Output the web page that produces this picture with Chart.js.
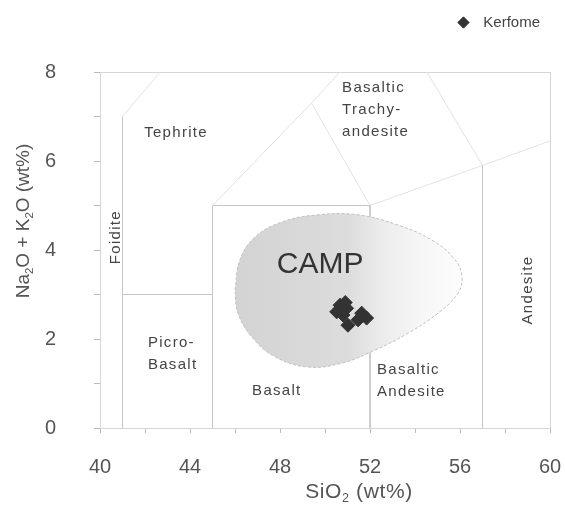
<!DOCTYPE html>
<html>
<head>
<meta charset="utf-8">
<script src="https://cdn.jsdelivr.net/npm/chart.js@4.4.1/dist/chart.umd.min.js"></script>
<style>
  html, body { margin: 0; padding: 0; background: #fff; }
</style>
</head>
<body>
<canvas id="tas" width="565" height="509"></canvas>
<script>
// Kerfome samples (SiO2 wt%, Na2O+K2O wt%)
const kerfomeSiO2 = [50.67, 50.96, 50.52, 50.80, 51.63, 51.85, 51.02, 51.47, 50.90];
const kerfomeAlk  = [2.76, 2.69, 2.61, 2.54, 2.58, 2.47, 2.31, 2.43, 2.82];

// CAMP field outline
const campSiO2 = [46.0, 46.22, 46.89, 48.09, 49.69, 51.47, 53.24, 54.76, 55.78, 56.09,
                  55.91, 55.02, 53.69, 52.22, 50.76, 49.24, 47.78, 46.76, 46.13, 46.0];
const campAlk  = [3.10, 3.78, 4.29, 4.63, 4.79, 4.79, 4.56, 4.22, 3.78, 3.39,
                  3.03, 2.58, 2.13, 1.75, 1.46, 1.37, 1.60, 2.04, 2.58, 3.10];

// TAS field boundaries (clipped to the plot window)
const tasBoundaries = [
  [[41, 0], [41, 7]],
  [[41, 3], [45, 3]],
  [[45, 0], [45, 5], [52, 5], [52, 0]],
  [[57, 0], [57, 5.9]]
];
const tasDiagonals = [
  [[41, 7], [42.67, 8]],
  [[52, 5], [57, 5.9], [60, 6.45]],
  [[57, 5.9], [54.53, 8]],
  [[45, 5], [49.4, 7.3], [52, 5]],
  [[49.4, 7.3], [50.66, 8]]
];

const regionLabels = [
  { lines: ['Tephrite'], x: 43.38, y: 6.63, align: 'center' },
  { lines: ['Basaltic', 'Trachy-', 'andesite'], x: 50.76, y: 7.64, align: 'left' },
  { lines: ['Foidite'], x: 40.71, y: 4.29, align: 'center', rotate: true },
  { lines: ['Picro-', 'Basalt'], x: 42.13, y: 1.91, align: 'left' },
  { lines: ['Basalt'], x: 46.76, y: 0.83, align: 'left' },
  { lines: ['Basaltic', 'Andesite'], x: 52.31, y: 1.30, align: 'left' },
  { lines: ['Andesite'], x: 59.02, y: 3.10, align: 'center', rotate: true }
];

const fontFamily = "'Liberation Sans', Arial, sans-serif";
const toPoints = (xs, ys) => xs.map((x, i) => ({ x, y: ys[i] }));

const datasets = [
  {
    label: 'Kerfome',
    data: toPoints(kerfomeSiO2, kerfomeAlk),
    pointStyle: 'rectRot',
    pointRadius: 7,
    backgroundColor: '#333',
    borderColor: '#333',
    showLine: false
  },
  {
    label: 'CAMP',
    data: toPoints(campSiO2, campAlk),
    showLine: true,
    pointRadius: 0,
    tension: 0.4,
    borderColor: '#c0c0c0',
    borderWidth: 1,
    borderDash: [3, 2],
    fill: 'shape',
    backgroundColor: (ctx) => {
      const chart = ctx.chart;
      if (!chart.chartArea) return '#ddd';
      const xs = chart.scales.x;
      const g = chart.ctx.createLinearGradient(xs.getPixelForValue(46), 0, xs.getPixelForValue(56), 0);
      g.addColorStop(0, '#d3d3d3');
      g.addColorStop(0.5, '#dcdcdc');
      g.addColorStop(0.66, '#ececec');
      g.addColorStop(0.82, '#f6f6f6');
      g.addColorStop(1, '#fcfcfc');
      return g;
    }
  }
];

const addLines = (list, color, prefix) => list.forEach((seg, i) => {
  datasets.push({
    label: prefix + i,
    data: seg.map(p => ({ x: p[0], y: p[1] })),
    showLine: true,
    pointRadius: 0,
    borderColor: color,
    borderWidth: 1,
    fill: false
  });
});
addLines(tasBoundaries, '#c6c6c6', 'tas');
addLines(tasDiagonals, '#e2e2e2', 'diag');

function drawSubText(ctx, parts, size) {
  // parts: [text, isSubscript]
  let total = 0;
  parts.forEach(([t, sub]) => {
    ctx.font = (sub ? size * 0.6 : size) + 'px ' + fontFamily;
    total += ctx.measureText(t).width;
  });
  let x = -total / 2;
  parts.forEach(([t, sub]) => {
    ctx.font = (sub ? size * 0.6 : size) + 'px ' + fontFamily;
    ctx.fillText(t, x, sub ? size * 0.3 : 0);
    x += ctx.measureText(t).width;
  });
}

// extra room between the legend and the plot
const legendSpacer = {
  id: 'legendSpacer',
  beforeInit(chart) {
    const fit = chart.legend.fit;
    chart.legend.fit = function () {
      fit.bind(chart.legend)();
      this.height += 32;
    };
  }
};

const tasDecor = {
  id: 'tasDecor',
  beforeDatasetsDraw(chart) {
    const { ctx, chartArea: a } = chart;
    ctx.save();
    ctx.strokeStyle = '#d6d6d6';
    ctx.lineWidth = 1;
    ctx.strokeRect(a.left + 0.5, a.top + 0.5, a.right - a.left, a.bottom - a.top);
    ctx.restore();
  },
  afterDatasetsDraw(chart) {
    const { ctx, scales: { x, y } } = chart;
    ctx.save();
    ctx.fillStyle = '#444';
    ctx.textBaseline = 'middle';
    ctx.font = '15px ' + fontFamily;
    ctx.letterSpacing = '1.3px';
    regionLabels.forEach(l => {
      const px = x.getPixelForValue(l.x);
      const py = y.getPixelForValue(l.y);
      ctx.save();
      ctx.translate(px, py);
      if (l.rotate) ctx.rotate(-Math.PI / 2);
      ctx.textAlign = l.align;
      l.lines.forEach((t, i) => ctx.fillText(t, 0, i * 22));
      ctx.restore();
    });
    ctx.letterSpacing = '0px';

    // CAMP field name
    ctx.fillStyle = '#333';
    ctx.font = '30px ' + fontFamily;
    ctx.textAlign = 'center';
    ctx.fillText('CAMP', x.getPixelForValue(49.78), y.getPixelForValue(3.66));

    // axis titles
    ctx.fillStyle = '#555';
    ctx.textAlign = 'left';
    ctx.save();
    ctx.letterSpacing = '0.6px';
    ctx.translate(359, 492);
    drawSubText(ctx, [['SiO', false], ['2', true], [' (wt%)', false]], 21);
    ctx.restore();
    ctx.save();
    ctx.translate(24, 221);
    ctx.rotate(-Math.PI / 2);
    drawSubText(ctx, [['Na', false], ['2', true], ['O + K', false], ['2', true], ['O (wt%)', false]], 19);
    ctx.restore();
    ctx.restore();
  }
};

new Chart(document.getElementById('tas').getContext('2d'), {
  type: 'scatter',
  data: { datasets },
  options: {
    responsive: false,
    animation: false,
    layout: { padding: { top: 5, right: 15, left: 0, bottom: 0 } },
    plugins: {
      tooltip: { enabled: false },
      legend: {
        position: 'top',
        align: 'end',
        labels: {
          generateLabels: chart => Chart.defaults.plugins.legend.labels.generateLabels(chart)
            .filter(l => l.text === 'Kerfome')
            .map(l => ({ ...l, text: '  Kerfome' })),
          usePointStyle: true,
          boxWidth: 8,
          boxHeight: 8,
          color: '#444',
          font: { size: 15, family: fontFamily },
          padding: 10
        }
      }
    },
    scales: {
      x: {
        type: 'linear',
        min: 40, max: 60,
        ticks: {
          stepSize: 2,
          autoSkip: false,
          maxRotation: 0,
          callback: v => (v % 4 === 0 ? v : ''),
          color: '#555',
          font: { size: 20, family: fontFamily },
          padding: 22
        },
        grid: { drawOnChartArea: false, tickLength: 5, color: '#bbb' },
        border: { color: '#999' },
        afterFit: s => { s.height = 81; s.paddingLeft = 0; s.paddingRight = 0; }
      },
      y: {
        type: 'linear',
        min: 0, max: 8,
        ticks: {
          stepSize: 1,
          autoSkip: false,
          callback: v => (v % 2 === 0 ? v : ''),
          color: '#555',
          font: { size: 20, family: fontFamily },
          padding: 38
        },
        grid: { drawOnChartArea: false, tickLength: 6, color: '#bbb' },
        border: { color: '#999' },
        afterFit: s => { s.width = 100; }
      }
    }
  },
  plugins: [legendSpacer, tasDecor]
});
</script>
</body>
</html>
